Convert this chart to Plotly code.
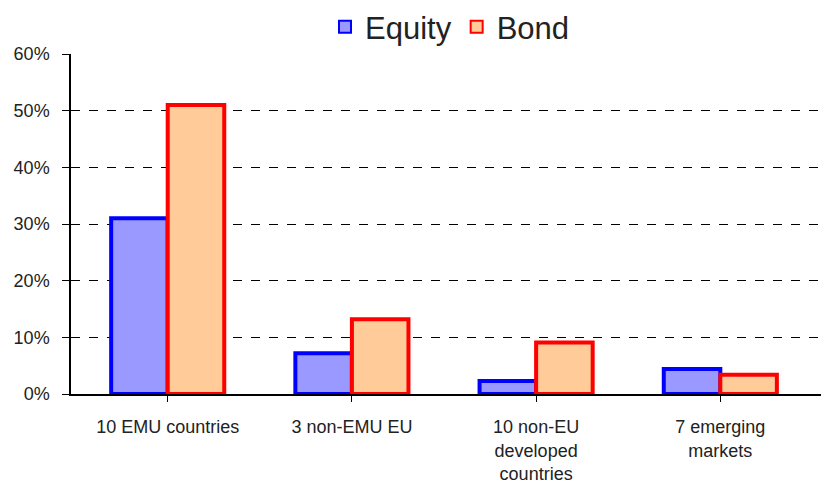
import plotly.graph_objects as go

categories = ["10 EMU countries", "3 non-EMU EU", "10 non-EU<br>developed<br>countries", "7 emerging<br>markets"]
equity = [31.0, 7.2, 2.3, 4.4]
bond = [51.0, 13.2, 9.1, 3.4]
ytick_vals = [0, 10, 20, 30, 40, 50, 60]
ytick_text = ["0%", "10%", "20%", "30%", "40%", "50%", "60%"]

idx = list(range(len(categories)))

fig = go.Figure()
fig.add_trace(go.Bar(x=idx, y=equity, name="Equity",
                     marker=dict(color="#9999FF", line=dict(color="#0000FF", width=4))))
fig.add_trace(go.Bar(x=idx, y=bond, name="Bond",
                     marker=dict(color="#FFCC99", line=dict(color="#FF0000", width=4))))

# the page body has an 8px margin, so the figure is sized/offset to compensate
fig.update_layout(
    width=821, height=475,
    margin=dict(l=63, r=0, t=46, b=89, autoexpand=False),
    paper_bgcolor="white", plot_bgcolor="white",
    barmode="group", bargap=0.386, bargroupgap=0,
    font=dict(family="Liberation Sans, Arial, sans-serif", color="#222222"),
    legend=dict(orientation="h", x=0.5, xanchor="center", xref="paper",
                y=1.079, yanchor="middle", yref="paper",
                font=dict(size=31, color="#222222"), traceorder="normal",
                itemsizing="constant"),
    showlegend=True,
)
fig.update_xaxes(
    tickmode="array", tickvals=idx, ticktext=categories,
    range=[-0.525, 3.59], automargin=False,
    showline=True, linecolor="black", linewidth=1.5,
    ticks="outside", tickson="boundaries", ticklen=6, tickcolor="black",
    tickfont=dict(size=18, color="#222222"),
    ticklabelstandoff=10,
    showgrid=False, zeroline=False,
)
fig.update_yaxes(
    range=[0, 60], tickvals=ytick_vals, ticktext=ytick_text, automargin=False,
    showline=True, linecolor="black", linewidth=1.5,
    ticks="outside", ticklen=7, tickcolor="black",
    tickfont=dict(size=18, color="#222222"),
    ticklabelstandoff=9,
    showgrid=True, gridcolor="black", gridwidth=1.2, griddash="dash",
    zeroline=False,
)

fig.write_html("out.html")
